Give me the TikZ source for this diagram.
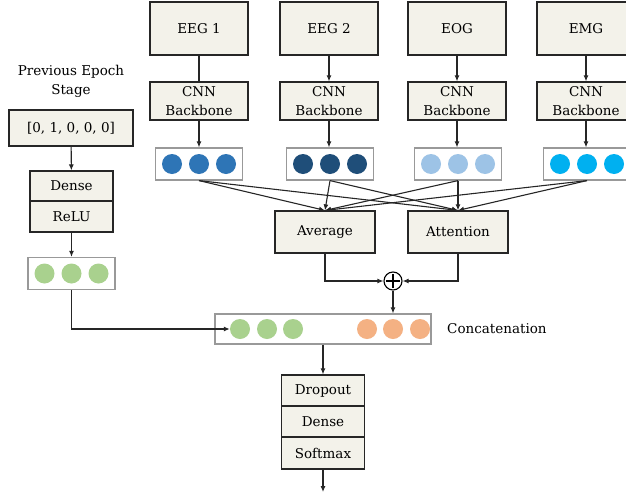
\documentclass[tikz,border=0pt]{standalone}
\usepackage{fontspec}
\setmainfont{DejaVu Serif}
\usetikzlibrary{arrows.meta,calc}
\definecolor{boxfill}{HTML}{F3F2EA}
\definecolor{cA}{HTML}{2E75B6}
\definecolor{cB}{HTML}{1F4E79}
\definecolor{cC}{HTML}{9DC3E6}
\definecolor{cD}{HTML}{00B0F0}
\definecolor{cG}{HTML}{A9D18E}
\definecolor{cO}{HTML}{F4B183}
\newcommand\myfs{\fontsize{13.5}{19}\selectfont}
\tikzset{
  blk/.style={draw=black!85, fill=boxfill, line width=1.2pt, inner sep=0pt, align=center, font=\myfs},
  feat/.style={draw=black!40, fill=white, line width=1.2pt, minimum width=87pt, minimum height=32pt, inner sep=0pt},
  dot/.style={circle, minimum size=20pt, inner sep=0pt, fill=#1},
  arr/.style={-{Latex[length=6pt,width=5pt]}, line width=1.1pt, draw=black!85},
  ln/.style={line width=1.1pt, draw=black!85},
  lbl/.style={font=\myfs, align=center, inner sep=0pt}
}
\begin{document}
\begin{tikzpicture}[x=1pt,y=-1pt]
\useasboundingbox (0,0) rectangle (626,498);
\clip (0,0) rectangle (626,498);
% input boxes
\foreach \n/\x/\t in {eega/199/EEG 1, eegb/329/EEG 2, eog/457/EOG, emg/586/EMG}{
  \node[blk, minimum width=98pt, minimum height=53pt] (\n) at (\x,28.5) {\t};
  \node[blk, minimum width=98pt, minimum height=38pt] (\n cnn) at (\x,101) {CNN\\Backbone};
}
% feature boxes
\node[feat] (fa) at (199,164) {};
\node[feat] (fb) at (330,164) {};
\node[feat] (fc) at (458,164) {};
\node[feat] (fd) at (587,164) {};
\foreach \f/\c in {fa/cA, fb/cB, fc/cC, fd/cD}{
  \node[dot=\c] at ($(\f)+(-27,0)$) {};
  \node[dot=\c] at (\f) {};
  \node[dot=\c] at ($(\f)+(27,0)$) {};
}
\draw[ln] (eega) -- (eegacnn);
\draw[arr] (eegb) -- (eegbcnn);
\draw[arr] (eog) -- (eogcnn);
\draw[arr] (emg) -- (emgcnn);
\draw[arr] (eegacnn) -- (fa);
\draw[arr] (eegbcnn.south) -- (eegbcnn.south |- fb.north);
\draw[arr] (eogcnn.south) -- (eogcnn.south |- fc.north);
\draw[arr] (emgcnn.south) -- (emgcnn.south |- fd.north);
% average / attention
\node[blk, minimum width=100pt, minimum height=42pt] (avg) at (325,232) {Average};
\node[blk, minimum width=100pt, minimum height=42pt] (att) at (458,232) {Attention};
\foreach \f in {fa,fb,fc,fd}{
  \draw[arr] (\f.south) -- (avg.north);
  \draw[arr] (\f.south) -- (att.north);
}
% plus
\node[circle, draw=black, line width=1.1pt, fill=white, minimum size=18pt, inner sep=0pt] (plus) at (393,281) {};
\draw[line width=1.1pt] ([yshift=-3pt]plus.north) -- ([yshift=3pt]plus.south)
  ([xshift=3pt]plus.west) -- ([xshift=-3pt]plus.east);
\draw[arr] (avg.south) |- (plus.west);
\draw[arr] (att.south) |- (plus.east);
% concatenation
\node[feat, minimum width=216pt, minimum height=30pt] (cat) at (323,329) {};
\node[dot=cG] (g1) at (240,329) {};
\node[dot=cG] (g2) at (267,329) {};
\node[dot=cG] (g3) at (293,329) {};
\node[dot=cO] (o1) at (367,329) {};
\node[dot=cO] (o2) at (393,329) {};
\node[dot=cO] (o3) at (420,329) {};
\node[lbl, anchor=west] (cattxt) at (447,329) {Concatenation};
\draw[arr] (plus.south) -- (plus.south |- cat.north);
% left branch
\node[lbl] (prev) at (71,81) {Previous Epoch\\Stage};
\node[blk, minimum width=124pt, minimum height=36pt] (onehot) at (71,128) {[0, 1, 0, 0, 0]};
\node[blk, minimum width=83pt, minimum height=30pt] (dense) at (71.5,186) {Dense};
\node[blk, minimum width=83pt, minimum height=31pt] (relu) at (71.5,216.5) {ReLU};
\draw[arr] (onehot) -- (dense);
\node[feat] (gf) at (71.5,273.5) {};
\node[dot=cG] at (44.5,273.5) {};
\node[dot=cG] at (71.5,273.5) {};
\node[dot=cG] at (98.5,273.5) {};
\draw[arr] (relu) -- (gf);
\draw[arr] (gf.south) |- (g1.west);
% output head
\node[blk, minimum width=83pt, minimum height=31pt] (drop) at (323,390.5) {Dropout};
\node[blk, minimum width=83pt, minimum height=31pt] (dense2) at (323,421.5) {Dense};
\node[blk, minimum width=83pt, minimum height=32pt] (soft) at (323,453) {Softmax};
\draw[arr] (cat.south) -- (drop.north);
\coordinate (out) at (323,492);
\draw[arr] (soft.south) -- (out);
\end{tikzpicture}
\end{document}
